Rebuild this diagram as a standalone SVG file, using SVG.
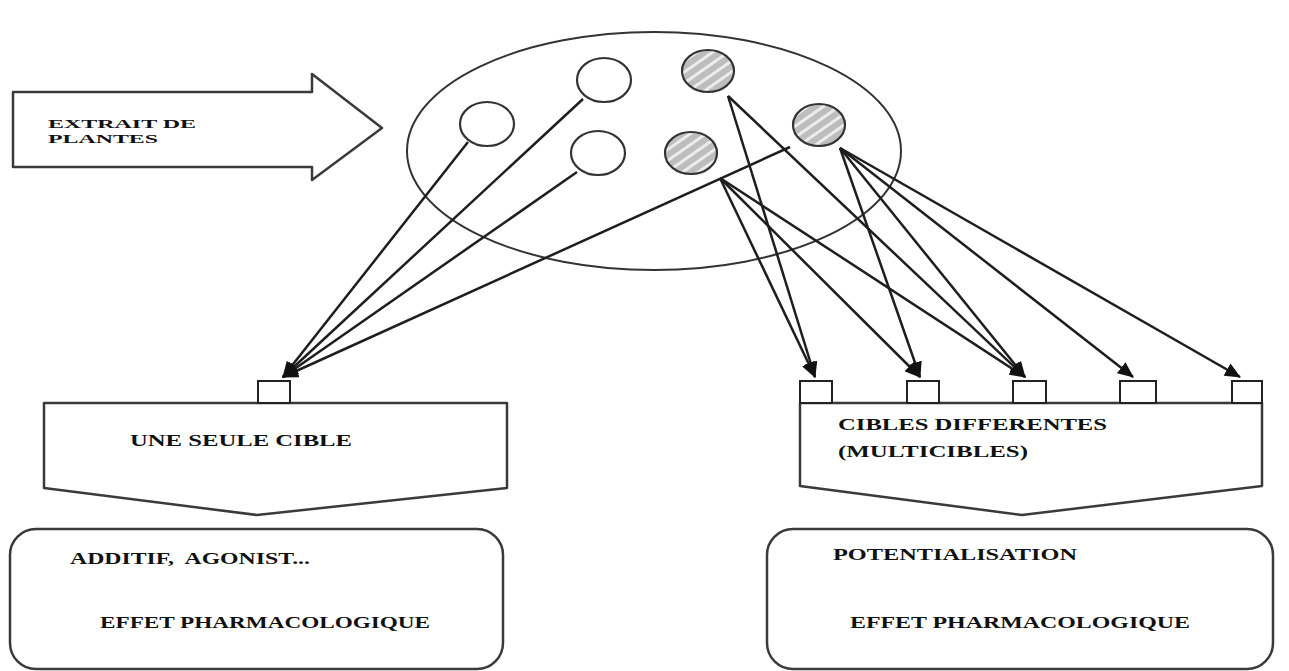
<svg xmlns="http://www.w3.org/2000/svg" width="1289" height="671" viewBox="0 0 1289 671">
<style>
.shape{fill:#fff;stroke:#3a3a3a;stroke-width:2.5;stroke-linejoin:round}
.circ{fill:#fff;stroke:#333;stroke-width:2.2}
.hatch{fill:url(#hatchPat);stroke:#333;stroke-width:2.2}
.sq{fill:#fff;stroke:#222;stroke-width:2}
.conn{stroke:#1e1e1e;stroke-width:2.5;fill:none;marker-end:url(#arrow)}
.lbl{font-family:"Liberation Serif","Times New Roman",serif;font-weight:bold;font-size:16px;fill:#111}
.sm{font-size:13.5px}
</style>
<defs>
<pattern id="hatchPat" width="9" height="9" patternUnits="userSpaceOnUse" patternTransform="rotate(-35)">
<rect width="9" height="9" fill="#bdbdbd"/>
<rect y="0" width="9" height="3" fill="#ececec"/>
</pattern>
<marker id="arrow" markerUnits="userSpaceOnUse" markerWidth="16" markerHeight="14" viewBox="0 0 16 14" refX="15" refY="7" orient="auto">
<path d="M0,0 L16,7 L0,14 z" fill="#111"/>
</marker>
</defs>
<rect width="1289" height="671" fill="#fff"/>

<g id="extrait-arrow">
<polygon class="shape" points="13,92 312,92 312,74 382,128 312,180 312,167 13,167"/>
<text class="lbl sm" x="48" y="128" textLength="148" lengthAdjust="spacingAndGlyphs">EXTRAIT DE</text>
<text class="lbl sm" x="48" y="143" textLength="110" lengthAdjust="spacingAndGlyphs">PLANTES</text>
</g>

<g id="extract-ellipse">
<ellipse class="shape" cx="654" cy="151" rx="247" ry="119" style="stroke:#333;stroke-width:2"/>
</g>

<g id="compound-open-1"><ellipse class="circ" cx="487" cy="124" rx="27" ry="22"/></g>
<g id="compound-open-2"><ellipse class="circ" cx="604" cy="80" rx="27" ry="22"/></g>
<g id="compound-open-3"><ellipse class="circ" cx="598" cy="153" rx="27" ry="22"/></g>
<g id="compound-hatched-1"><ellipse class="hatch" cx="708" cy="71" rx="26" ry="21"/></g>
<g id="compound-hatched-2"><ellipse class="hatch" cx="691" cy="153" rx="26" ry="21"/></g>
<g id="compound-hatched-3"><ellipse class="hatch" cx="819" cy="125" rx="26" ry="21"/></g>

<g id="single-target">
<polygon class="shape" points="44,403 507,403 507,488 257,515 44,488"/>
<rect class="sq" x="258" y="381" width="32" height="22"/>
<text class="lbl" x="130" y="446" textLength="222" lengthAdjust="spacingAndGlyphs">UNE SEULE CIBLE</text>
</g>

<g id="multi-target">
<polygon class="shape" points="800,403 1262,403 1262,486 1022,515 800,486"/>
<rect class="sq" x="800" y="381" width="32" height="22"/>
<rect class="sq" x="907" y="381" width="32" height="22"/>
<rect class="sq" x="1013" y="381" width="33" height="22"/>
<rect class="sq" x="1120" y="381" width="36" height="22"/>
<rect class="sq" x="1232" y="381" width="30" height="22"/>
<text class="lbl" x="838" y="430" textLength="269" lengthAdjust="spacingAndGlyphs">CIBLES DIFFERENTES</text>
<text class="lbl" x="838" y="457" textLength="190" lengthAdjust="spacingAndGlyphs">(MULTICIBLES)</text>
</g>

<g id="effect-left">
<rect class="shape" x="10" y="529" width="493" height="140" rx="26" ry="26"/>
<text class="lbl" x="70" y="564" textLength="240" lengthAdjust="spacingAndGlyphs">ADDITIF,&#160; AGONIST...</text>
<text class="lbl" x="100" y="628" textLength="330" lengthAdjust="spacingAndGlyphs">EFFET PHARMACOLOGIQUE</text>
</g>

<g id="effect-right">
<rect class="shape" x="767" y="529" width="506" height="140" rx="26" ry="26"/>
<text class="lbl" x="833" y="560" textLength="244" lengthAdjust="spacingAndGlyphs">POTENTIALISATION</text>
<text class="lbl" x="850" y="628" textLength="340" lengthAdjust="spacingAndGlyphs">EFFET PHARMACOLOGIQUE</text>
</g>

<g id="connectors">
<line class="conn" x1="468" y1="142" x2="283" y2="377"/>
<line class="conn" x1="583" y1="99" x2="283" y2="377"/>
<line class="conn" x1="577" y1="172" x2="283" y2="377"/>
<line class="conn" x1="790" y1="147" x2="283" y2="377"/>
<line class="conn" x1="728" y1="96" x2="815" y2="377"/>
<line class="conn" x1="728" y1="96" x2="1025" y2="377"/>
<line class="conn" x1="720" y1="178" x2="815" y2="377"/>
<line class="conn" x1="720" y1="178" x2="920" y2="377"/>
<line class="conn" x1="720" y1="178" x2="1025" y2="377"/>
<line class="conn" x1="840" y1="148" x2="920" y2="377"/>
<line class="conn" x1="840" y1="148" x2="1025" y2="377"/>
<line class="conn" x1="840" y1="148" x2="1133" y2="377"/>
<line class="conn" x1="840" y1="148" x2="1240" y2="377"/>
</g>
</svg>
